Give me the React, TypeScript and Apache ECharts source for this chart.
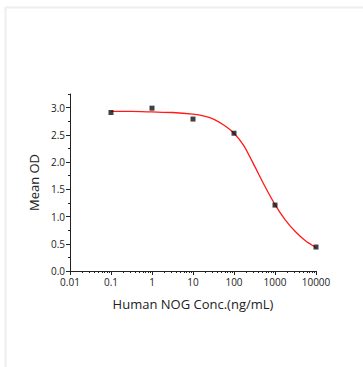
import React, { useEffect, useRef } from "react";
import * as echarts from "echarts";

const concentrations = [0.1, 1, 10, 100, 1000, 10000];
const meanOD = [2.91, 2.99, 2.79, 2.53, 1.21, 0.44];

const curveConc = [0.1, 0.316, 1, 3.16, 10, 17.8, 31.6, 56.2, 100, 178, 316, 562, 1000, 1778, 3162, 5623, 10000];
const curveOD = [2.93, 2.93, 2.92, 2.91, 2.88, 2.85, 2.79, 2.68, 2.53, 2.29, 1.93, 1.56, 1.22, 0.94, 0.72, 0.55, 0.43];

const xMinorTicks = [
  0.02, 0.03, 0.04, 0.05, 0.06, 0.07, 0.08, 0.09,
  0.2, 0.3, 0.4, 0.5, 0.6, 0.7, 0.8, 0.9,
  2, 3, 4, 5, 6, 7, 8, 9,
  20, 30, 40, 50, 60, 70, 80, 90,
  200, 300, 400, 500, 600, 700, 800, 900,
  2000, 3000, 4000, 5000, 6000, 7000, 8000, 9000,
];
const yMajorTicks = [0, 0.5, 1.0, 1.5, 2.0, 2.5, 3.0];

const xTitle = "Human NOG Conc.(ng/mL)";
const yTitle = "Mean OD";

const FONT = "'Open Sans', 'Liberation Sans', sans-serif";

export default function App() {
  const ref = useRef<HTMLDivElement>(null);
  useEffect(() => {
    if (!ref.current) return;
    const chart = echarts.init(ref.current, null, { renderer: "svg" });
    const fmtX = (v: number) => String(Number(Number(v).toPrecision(6)));
    chart.setOption({
      animation: false,
      backgroundColor: "#ffffff",
      grid: { left: 70, right: 47, top: 94, bottom: 96 },
      xAxis: [
        {
          type: "log",
          logBase: 10,
          min: 0.01,
          max: 10000,
          name: xTitle,
          nameLocation: "middle",
          nameGap: 26,
          nameTextStyle: { fontSize: 13, color: "#222", fontFamily: FONT },
          axisLine: { show: true, onZero: false, lineStyle: { color: "#222", width: 1 } },
          axisTick: { show: true, length: 4, lineStyle: { color: "#222" } },
          minorTick: { show: false },
          axisLabel: { fontSize: 10, color: "#222", margin: 6, fontFamily: FONT, formatter: fmtX },
          splitLine: { show: false },
        },
        {
          type: "log",
          logBase: 10,
          min: 0.01,
          max: 10000,
          position: "bottom",
          axisLine: { show: false },
          axisTick: { show: true, length: 2, customValues: xMinorTicks, lineStyle: { color: "#222" } },
          axisLabel: { show: false },
          splitLine: { show: false },
        },
      ],
      yAxis: [
        {
          type: "value",
          min: 0,
          max: 3.25,
          interval: 0.25,
          name: yTitle,
          nameLocation: "middle",
          nameGap: 18,
          nameTextStyle: { fontSize: 13, color: "#222", fontFamily: FONT },
          axisLine: { show: true, onZero: false, lineStyle: { color: "#222", width: 1 } },
          axisTick: { show: true, length: 4, customValues: yMajorTicks, lineStyle: { color: "#222" } },
          axisLabel: {
            fontSize: 10,
            color: "#222",
            margin: 5,
            fontFamily: FONT,
            customValues: yMajorTicks,
            formatter: (v: number) => v.toFixed(1),
          },
          splitLine: { show: false },
        },
        {
          type: "value",
          min: 0,
          max: 3.25,
          interval: 0.25,
          position: "left",
          axisLine: { show: false },
          axisTick: { show: true, length: 2, lineStyle: { color: "#222" } },
          axisLabel: { show: false },
          splitLine: { show: false },
        },
      ],
      series: [
        {
          type: "line",
          data: curveConc.map((c, i) => [c, curveOD[i]]),
          smooth: 0.2,
          showSymbol: false,
          lineStyle: { color: "#ff1a1a", width: 1.3 },
          z: 2,
        },
        {
          type: "scatter",
          data: concentrations.map((c, i) => [c, meanOD[i]]),
          symbol: "rect",
          symbolSize: 5,
          itemStyle: { color: "#111" },
          z: 3,
        },
      ],
      graphic: [
        { type: "line", shape: { x1: 5, y1: 7.5, x2: 363, y2: 7.5 }, style: { stroke: "#eeeeee", lineWidth: 2 } },
        { type: "line", shape: { x1: 5.5, y1: 7, x2: 5.5, y2: 367 }, style: { stroke: "#eeeeee", lineWidth: 2 } },
      ],
    });
    return () => chart.dispose();
  }, []);
  return (
    <div
      ref={ref}
      style={{ position: "fixed", left: 0, top: 0, width: 363, height: 367, background: "#fff" }}
    />
  );
}
